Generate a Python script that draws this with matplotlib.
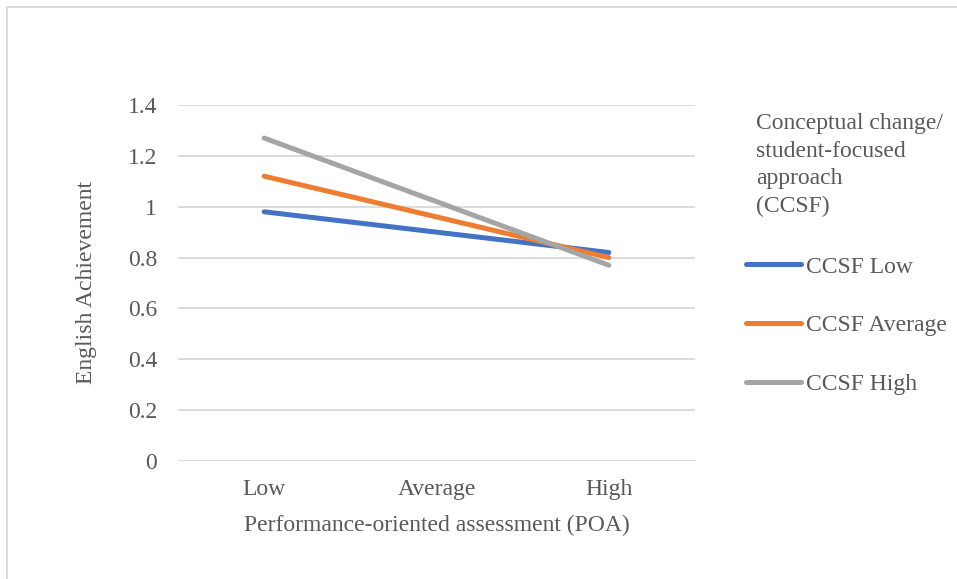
import matplotlib.pyplot as plt
from matplotlib.lines import Line2D
from matplotlib.patches import Rectangle

# Simple-slopes data: English achievement by POA level for each CCSF level
poa_levels = ["Low", "Average", "High"]
plotted_levels = ["Low", "High"]
ccsf_low = [0.98, 0.82]
ccsf_average = [1.12, 0.80]
ccsf_high = [1.27, 0.77]
series_names = ["CCSF Low", "CCSF Average", "CCSF High"]
y_ticks = [0, 0.2, 0.4, 0.6, 0.8, 1, 1.2, 1.4]
y_tick_labels = ["0", "0.2", "0.4", "0.6", "0.8", "1", "1.2", "1.4"]

colors = ["#4472C4", "#ED7D31", "#A5A5A5"]
text_color = "#595959"
grid_color = "#D9D9D9"
fs = 17

plt.rcParams["font.family"] = ["Liberation Serif", "DejaVu Serif"]

fig = plt.figure(figsize=(9.57, 5.79), dpi=100)
ax = fig.add_axes([178 / 957, 1 - 461 / 579, (695 - 178) / 957, (461 - 105) / 579])

x_pos = [poa_levels.index(c) for c in plotted_levels]
for vals, col, name in zip([ccsf_low, ccsf_average, ccsf_high], colors, series_names):
    ax.plot(x_pos, vals, color=col, lw=3.6, solid_capstyle="round", label=name, zorder=3)

ax.set_xlim(-0.5, 2.5)
ax.set_ylim(0, 1.4)
ax.set_yticks(y_ticks)
ax.set_yticklabels(y_tick_labels)
ax.set_xticks(range(len(poa_levels)))
ax.set_xticklabels(poa_levels)
ax.yaxis.grid(True, color=grid_color, lw=1.3)
ax.set_axisbelow(True)
for s in ax.spines.values():
    s.set_visible(False)
ax.tick_params(axis="both", length=0, labelsize=fs, colors=text_color)
ax.tick_params(axis="y", pad=15)
ax.tick_params(axis="x", pad=13)
ax.set_xlabel("Performance-oriented assessment (POA)", fontsize=fs, color=text_color, labelpad=11)
ax.set_ylabel("English Achievement", fontsize=fs, color=text_color, labelpad=22)

# Legend title placed above the entries
fig.text(756 / 957, 1 - 113 / 579,
         "Conceptual change/\nstudent-focused\napproach\n(CCSF)",
         fontsize=fs, color=text_color, va="top", ha="left", linespacing=1.42)

handles = [Line2D([], [], color=c, lw=3.6, solid_capstyle="round") for c in colors]
leg = fig.legend(handles, series_names, loc="upper left",
                 bbox_to_anchor=(746 / 957, 1 - 256 / 579), frameon=False,
                 fontsize=fs, handlelength=2.35, handletextpad=0.17,
                 labelspacing=1.58, borderpad=0, borderaxespad=0)
for t in leg.get_texts():
    t.set_color(text_color)

# Outer chart-area border
fig.patches.append(Rectangle((7 / 957, -0.1), 1.2, 1 - 7 / 579 + 0.1,
                             transform=fig.transFigure, fill=False,
                             edgecolor="#D9D9D9", lw=1.3))

fig.savefig("out.png", dpi=100)
